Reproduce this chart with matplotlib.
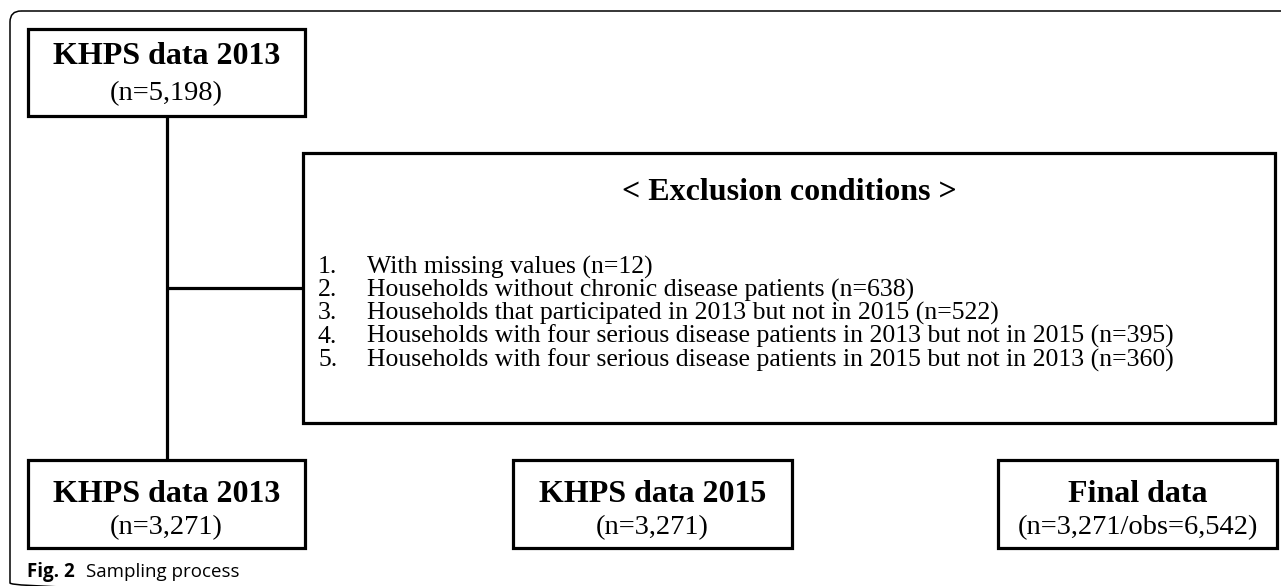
import matplotlib
matplotlib.use('AGG')

import matplotlib.pyplot as plt
from matplotlib.patches import Rectangle, FancyBboxPatch

# flowchart content
stage_titles = ["KHPS data 2013", "KHPS data 2013", "KHPS data 2015", "Final data"]
stage_counts = ["(n=5,198)", "(n=3,271)", "(n=3,271)", "(n=3,271/obs=6,542)"]
exclusion_title = "< Exclusion conditions >"
exclusion_reasons = [
    "With missing values",
    "Households without chronic disease patients",
    "Households that participated in 2013 but not in 2015",
    "Households with four serious disease patients in 2013 but not in 2015",
    "Households with four serious disease patients in 2015 but not in 2013",
]
exclusion_n = [12, 638, 522, 395, 360]
caption_bold = "Fig. 2"
caption_text = "Sampling process"

# layout in pixel units (x0, y0, x1, y1), y going down
stage_boxes = [(28, 29, 305, 116), (28, 460, 305, 548),
               (513, 460, 792, 548), (998, 460, 1277, 548)]
title_y = [56, 495, 495, 495]
count_y = [94, 528, 528, 528]
excl_box = (303, 153, 1275, 423)

serif = 'Liberation Serif'
lw_box = 2.3

fig = plt.figure(figsize=(12.81, 5.86), dpi=100)
ax = fig.add_axes([0, 0, 1, 1])
ax.set_xlim(0, 1281)
ax.set_ylim(586, 0)
ax.axis('off')

# outer frame with rounded corners (runs off the right and bottom)
frame = FancyBboxPatch((10, 11), 1300, 583, boxstyle="round,pad=0,rounding_size=11",
                       fill=False, lw=1.1, ec='black', clip_on=True)
ax.add_patch(frame)

# connector lines
ax.plot([167, 167], [116, 460], color='black', lw=lw_box, solid_capstyle='butt')
ax.plot([167, 303], [288, 288], color='black', lw=lw_box, solid_capstyle='butt')

for (x0, y0, x1, y1), ty, cy, title, cnt in zip(stage_boxes, title_y, count_y,
                                                 stage_titles, stage_counts):
    ax.add_patch(Rectangle((x0, y0), x1 - x0, y1 - y0, fc='white', ec='black',
                           lw=lw_box, zorder=3))
    xc = (x0 + x1) / 2
    ax.text(xc, ty, title, family=serif, weight='bold', fontsize=23,
            ha='center', va='center', zorder=4)
    ax.text(xc, cy, cnt, family=serif, fontsize=20.5,
            ha='center', va='center', zorder=4)

x0, y0, x1, y1 = excl_box
ax.add_patch(Rectangle((x0, y0), x1 - x0, y1 - y0, fc='white', ec='black',
                       lw=lw_box, zorder=3))
ax.text((x0 + x1) / 2, 193, exclusion_title, family=serif, weight='bold',
        fontsize=23, ha='center', va='center', zorder=4)

for i, (reason, n) in enumerate(zip(exclusion_reasons, exclusion_n)):
    y = 267 + i * 23.2
    ax.text(318, y, f"{i + 1}.", family=serif, fontsize=18.5, ha='left',
            va='center', zorder=4)
    ax.text(367, y, f"{reason} (n={n})", family=serif, fontsize=18.5,
            ha='left', va='center', zorder=4)

# caption
ax.text(27, 572, caption_bold, family='Open Sans', weight='bold',
        fontsize=13.5, ha='left', va='center')
ax.text(86, 572, caption_text, family='Open Sans', fontsize=13.5,
        ha='left', va='center')

fig.savefig('out.png', dpi=100)
